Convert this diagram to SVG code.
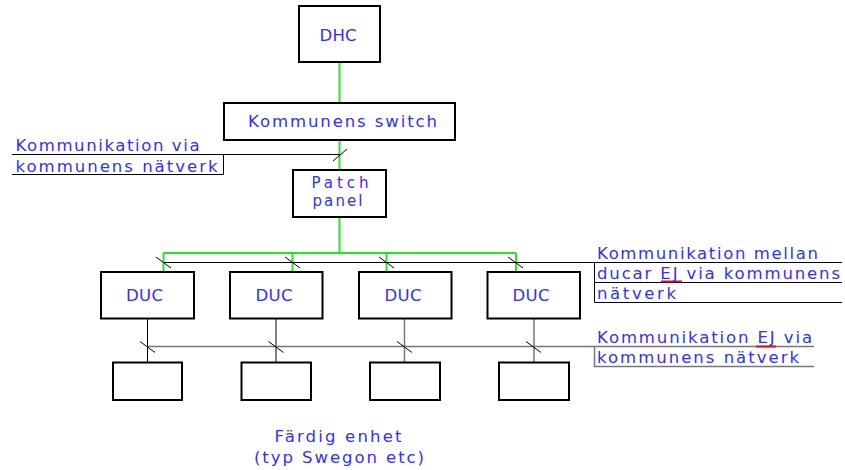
<svg xmlns="http://www.w3.org/2000/svg" width="845" height="470" viewBox="0 0 845 470">
<style>
text{font-family:"DejaVu Sans","Liberation Sans",sans-serif;font-size:16.5px;fill:#3030ff}
.sm{font-size:15px}
.box{fill:#fff;stroke:#000;stroke-width:2}
.g{stroke:#22e622;stroke-width:2;fill:none}
.k{stroke:#000;stroke-width:1;fill:none}
.gr{stroke:#777;stroke-width:1.5;fill:none}
.t{stroke:#000;stroke-width:1;fill:none}
.red{stroke:#e01010;stroke-width:2}
</style>
<rect width="845" height="470" fill="#fff"/>
<g id="connectors">
<line class="g" x1="339.5" y1="62" x2="339.5" y2="103"/>
<line class="g" x1="339.5" y1="140" x2="339.5" y2="170"/>
<polyline class="g" points="339.5,217 339.5,253 163.5,253"/>
<line class="g" x1="163.5" y1="253" x2="516" y2="253"/>
<line class="g" x1="163.5" y1="253" x2="163.5" y2="272"/>
<line class="g" x1="292.5" y1="253" x2="292.5" y2="272"/>
<line class="g" x1="386.5" y1="253" x2="386.5" y2="272"/>
<line class="g" x1="516" y1="253" x2="516" y2="272"/>
<line class="k" x1="147.5" y1="319" x2="147.5" y2="362"/>
<line class="k" x1="276" y1="319" x2="276" y2="362"/>
<line class="gr" x1="404.5" y1="319" x2="404.5" y2="362"/>
<line class="gr" x1="534" y1="319" x2="534" y2="362"/>
</g>
<g id="annotations">
<polyline class="t" points="12,154.5 339.5,154.5"/>
<polyline class="t" points="12,174.5 223.5,174.5 223.5,154.5"/>
<line class="t" x1="333" y1="161" x2="347" y2="149"/>
<line class="t" x1="163" y1="262.5" x2="842" y2="262.5"/>
<polyline class="t" points="594.5,262.5 594.5,302.5 842,302.5"/>
<line class="t" x1="594.5" y1="282.5" x2="842" y2="282.5"/>
<line class="t" x1="156" y1="257" x2="171" y2="268"/>
<line class="t" x1="285" y1="257" x2="300" y2="268"/>
<line class="t" x1="379" y1="257" x2="394" y2="268"/>
<line class="t" x1="508" y1="257" x2="523" y2="268"/>
<line class="gr" x1="147.5" y1="346.5" x2="814" y2="346.5"/>
<polyline class="gr" points="594.5,346.5 594.5,366.5 814,366.5"/>
<line class="t" x1="140" y1="341.5" x2="155" y2="352.5"/>
<line class="t" x1="268.5" y1="341.5" x2="283.5" y2="352.5"/>
<line class="t" x1="397" y1="341.5" x2="412" y2="352.5"/>
<line class="t" x1="526" y1="341.5" x2="541" y2="352.5"/>
<line class="red" x1="661" y1="281.5" x2="682" y2="281.5"/>
<line class="red" x1="756" y1="346.5" x2="776" y2="346.5"/>
<text x="15.5" y="151" textLength="184" lengthAdjust="spacing">Kommunikation via</text>
<text x="15.5" y="171.5" textLength="202" lengthAdjust="spacing">kommunens nätverk</text>
<text x="597" y="258.5" textLength="221" lengthAdjust="spacing">Kommunikation mellan</text>
<text x="597" y="279" textLength="243" lengthAdjust="spacing">ducar EJ via kommunens</text>
<text x="597" y="299" textLength="79" lengthAdjust="spacing">nätverk</text>
<text x="597" y="343" textLength="215" lengthAdjust="spacing">Kommunikation EJ via</text>
<text x="597" y="362.5" textLength="202" lengthAdjust="spacing">kommunens nätverk</text>
<text x="274.5" y="441.5" textLength="127" lengthAdjust="spacing">Färdig enhet</text>
<text x="254" y="463" textLength="170" lengthAdjust="spacing">(typ Swegon etc)</text>
</g>
<g id="dhc"><rect class="box" x="299" y="6" width="81" height="56"/><text x="319.5" y="41" textLength="37" lengthAdjust="spacing">DHC</text></g>
<g id="switch"><rect class="box" x="224" y="103" width="231" height="37"/><text x="248" y="127" textLength="189" lengthAdjust="spacing">Kommunens switch</text></g>
<g id="patch"><rect class="box" x="293" y="170" width="93" height="47"/><text class="sm" x="311.5" y="188" textLength="57" lengthAdjust="spacing">Patch</text><text class="sm" x="312.5" y="205.5" textLength="50" lengthAdjust="spacing">panel</text></g>
<g id="duc1"><rect class="box" x="101" y="272" width="93" height="46.5"/><text x="126" y="301" textLength="37" lengthAdjust="spacing">DUC</text></g>
<g id="duc2"><rect class="box" x="230" y="272" width="92.5" height="46.5"/><text x="255.5" y="301" textLength="37" lengthAdjust="spacing">DUC</text></g>
<g id="duc3"><rect class="box" x="359" y="272" width="92.5" height="46.5"/><text x="384.5" y="301" textLength="37" lengthAdjust="spacing">DUC</text></g>
<g id="duc4"><rect class="box" x="487.5" y="272" width="92.5" height="46.5"/><text x="512.5" y="301" textLength="37" lengthAdjust="spacing">DUC</text></g>
<g id="unit1"><rect class="box" x="113" y="362.5" width="69" height="37.5"/></g>
<g id="unit2"><rect class="box" x="241.5" y="362.5" width="69.5" height="37.5"/></g>
<g id="unit3"><rect class="box" x="370" y="362.5" width="70" height="37.5"/></g>
<g id="unit4"><rect class="box" x="499" y="362.5" width="70" height="37.5"/></g>
</svg>
